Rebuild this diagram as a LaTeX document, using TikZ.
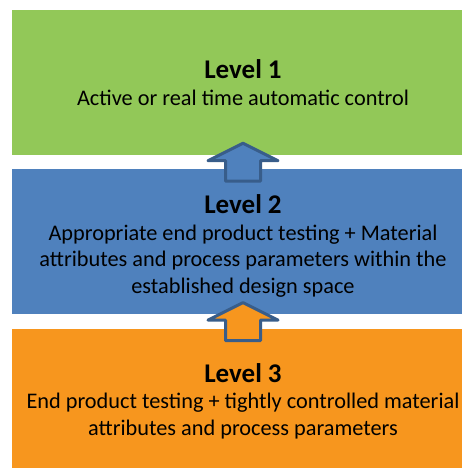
\documentclass[tikz,border=0pt]{standalone}
\usepackage{fontspec}
\setmainfont{Carlito}
\usetikzlibrary{positioning}

\definecolor{lvlgreen}{RGB}{146,200,88}
\definecolor{lvlblue}{RGB}{79,129,189}
\definecolor{lvlorange}{RGB}{247,150,30}
\definecolor{arrowedge}{RGB}{56,93,138}

\newcommand{\lvltitle}[1]{{\bfseries\fontsize{27}{26.5}\selectfont #1}}

\begin{document}
\begin{tikzpicture}[x=1pt,y=1pt,node distance=14pt,
  level box/.style={rectangle,minimum width=462pt,minimum height=145pt,inner sep=0pt,
    align=center,font=\fontsize{22.3}{26.5}\selectfont},
  up arrow/.style={draw=arrowedge,line width=3pt,line join=round}]
  \useasboundingbox (0,0) rectangle (462,-468);
  \clip (0,0) rectangle (462,-468);

  \node[level box,fill=lvlgreen] (green) at (243,-82.5)
    {\lvltitle{Level 1}\\
     Active or real time automatic control};
  \node[level box,fill=lvlblue] (blue) [below=of green]
    {\rule{0pt}{27pt}\lvltitle{Level 2}\\
     Appropriate end product testing + Material\\
     attributes and process parameters within the\\
     established design space};
  \node[level box,fill=lvlorange] (orange) [below=of blue]
    {\lvltitle{Level 3}\\
     End product testing + tightly controlled material\\
     attributes and process parameters};

  % arrows between the levels
  \coordinate[above=12pt of green.south] (tip1);
  \coordinate[above=12pt of blue.south] (tip2);
  \draw[up arrow,fill=lvlblue] (tip1) -- ++(35,-17.5) -- ++(-17.5,0) -- ++(0,-20.5)
    -- ++(-35,0) -- ++(0,20.5) -- ++(-17.5,0) -- cycle;
  \draw[up arrow,fill=lvlorange] (tip2) -- ++(35,-17.5) -- ++(-17.5,0) -- ++(0,-20.5)
    -- ++(-35,0) -- ++(0,20.5) -- ++(-17.5,0) -- cycle;
\end{tikzpicture}
\end{document}
